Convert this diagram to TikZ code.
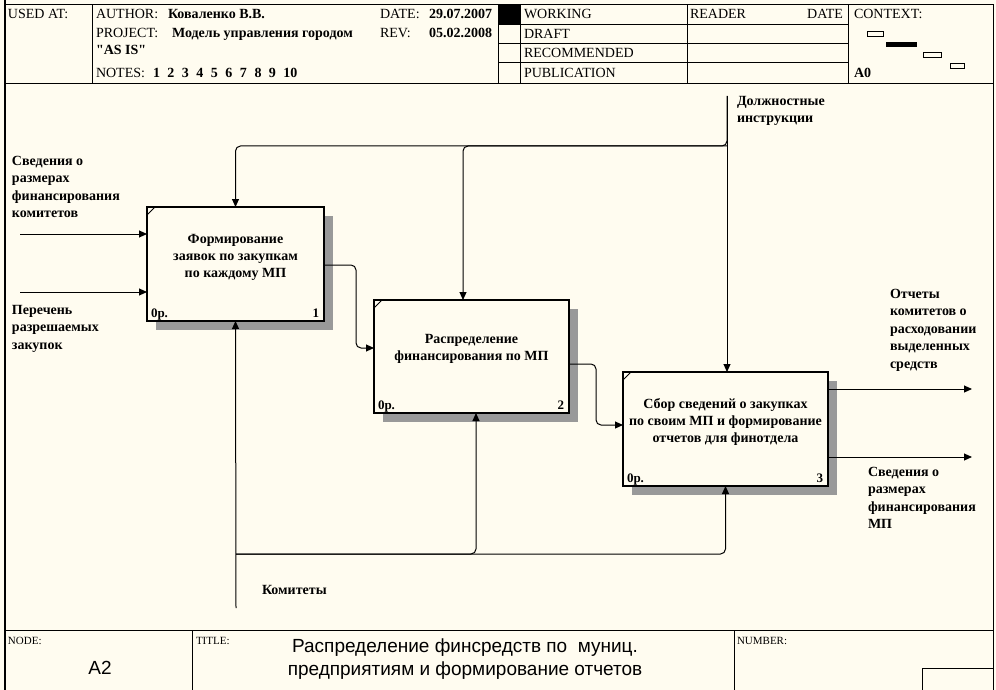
\documentclass[tikz,border=0pt]{standalone}
\usepackage{fontspec}
\setmainfont{Liberation Serif}
\newfontfamily\rawserif{Liberation Serif}
\newfontfamily\arialf{Liberation Sans}
\usetikzlibrary{arrows.meta,shadows}
\definecolor{bg}{RGB}{255,252,240}
\begin{document}
\begin{tikzpicture}[x=1pt,y=-1pt,
  every node/.style={inner sep=0pt, outer sep=0pt},
  hdr/.style={font=\fontsize{14}{15}\selectfont, anchor=base west},
  hdrb/.style={font=\bfseries\fontsize{14}{15}\selectfont, anchor=base west},
  small/.style={font=\fontsize{11}{13}\selectfont, anchor=base west},
  lbl/.style={font=\bfseries\fontsize{14}{17.5}\selectfont, align=left, anchor=north west},
  proc/.style={draw, line width=2.2pt, fill=bg,
    drop shadow={shadow xshift=9pt, shadow yshift=-9pt, fill=black!40, opacity=1}},
  boxtxt/.style={align=center, font=\bfseries\fontsize{14}{17}\selectfont},
  cost/.style={font=\bfseries\fontsize{13}{13}\selectfont, anchor=base west},
  num/.style={font=\bfseries\fontsize{13}{13}\selectfont, anchor=base east},
  arr/.style={line width=1pt, -{Triangle[length=8pt,width=7pt]}},
  ln/.style={line width=1pt},
  frame/.style={line width=1pt},
]
% background
\fill[bg] (0,0) rectangle (996,690);
\useasboundingbox (0,0) rectangle (996,690);

% ---------- header ----------
\draw[frame] (5,5) rectangle (993,84);
\draw[line width=2pt] (5,0) -- (5,690);
\draw[frame] (993,5) -- (993,690);
\draw[frame] (92,5) -- (92,84);
\draw[frame] (498,5) -- (498,84);
\draw[frame] (520,5) -- (520,84);
\draw[frame] (687,5) -- (687,84);
\draw[frame] (848,5) -- (848,84);
\draw[frame] (498,25) -- (848,25);
\draw[frame] (498,44) -- (848,44);
\draw[frame] (498,63) -- (848,63);
\fill[black] (498,5) rectangle (520,25);

\node[hdr] (usedat) at (8,19) {USED AT:};
\node[hdr] (author) at (96,19) {AUTHOR:};
\node[hdrb] (authv) at (168,19) {Коваленко В.В.};
\node[hdr] (date) at (380,19) {DATE:};
\node[hdrb] (datev) at (429,19) {29.07.2007};
\node[hdr] (proj) at (96,38) {PROJECT:};
\node[hdrb] (projv) at (172,38) {Модель управления городом};
\node[hdr] (rev) at (380,38) {REV:};
\node[hdrb] (revv) at (429,38) {05.02.2008};
\node[hdrb] (asis) at (96,55) {\rawserif\bfseries "AS IS"};
\node[hdr] (notes) at (96,78) {NOTES:};
\node[hdrb] (notesv) at (153,78) {1\hspace{7.5pt}2\hspace{7.5pt}3\hspace{7.5pt}4\hspace{7.5pt}5\hspace{7.5pt}6\hspace{7.5pt}7\hspace{7.5pt}8\hspace{7.5pt}9\hspace{7.5pt}10};

\node[hdr] (working) at (524,19) {WORKING};
\node[hdr] (draft) at (524,39) {DRAFT};
\node[hdr] (recom) at (524,58) {RECOMMENDED};
\node[hdr] (publ) at (524,78) {PUBLICATION};
\node[hdr] (reader) at (690,19) {READER};
\node[hdr, anchor=base east] (rdate) at (843,19) {DATE};
\node[hdr] (context) at (854,19) {CONTEXT:};
\node[hdrb] (a0) at (854,78) {A0};

% context thumbnails
\draw[line width=0.8pt] (867,31) rectangle (883,36);
\fill[black] (886,42) rectangle (917,47);
\draw[line width=0.8pt] (923,52) rectangle (941,57);
\draw[line width=0.8pt] (950,63) rectangle (964,68);

% ---------- footer ----------
\draw[frame] (5,630) -- (993,630);
\draw[frame] (192,630) -- (192,690);
\draw[frame] (734,630) -- (734,690);
\draw[frame] (922,690) -- (922,668) -- (993,668);
\node[small] (nodelbl) at (8,644) {NODE:};
\node[small] (titlelbl) at (196,644) {TITLE:};
\node[small] (numlbl) at (737,644) {NUMBER:};
\node[font=\arialf\fontsize{19}{23}\selectfont] (nodev) at (100,668) {A2};
\node[font=\arialf\fontsize{19}{23}\selectfont, align=center] (titlev) at (465,659)
  {Распределение финсредств по\ \ муниц.\\предприятиям и формирование отчетов};

% ---------- activity boxes ----------
\node[proc, minimum width=177pt, minimum height=114pt] (b1) at (235.5,264) {};
\node[proc, minimum width=195pt, minimum height=113pt] (b2) at (471.5,356.5) {};
\node[proc, minimum width=205pt, minimum height=114pt] (b3) at (725.5,429) {};

\node[boxtxt] (t1) at ([yshift=7pt]b1.center) {Формирование\\заявок по закупкам\\по каждому МП};
\node[boxtxt] (t2) at ([yshift=7.5pt]b2.center) {Распределение\\финансирования по МП};
\node[boxtxt] (t3) at ([yshift=7pt]b3.center) {Сбор сведений о закупках\\по своим МП и формирование\\отчетов для финотдела};

\foreach \b/\n in {b1/1,b2/2,b3/3}{
  \draw[line width=1pt] ([yshift=-8pt]\b.north west) -- ([xshift=8pt]\b.north west);
  \node[cost] at ([xshift=4pt,yshift=4pt]\b.south west) {0р.};
  \node[num] at ([xshift=-5pt,yshift=4pt]\b.south east) {\n};
}

% ---------- inputs ----------
\coordinate (in1) at (20,234);
\coordinate (in2) at (20,292);
\draw[arr] (in1) -- (in1 -| b1.west);
\draw[arr] (in2) -- (in2 -| b1.west);
\node[lbl] (lin1) at (12,156) {Сведения о\\размерах\\финансирования\\комитетов};
\node[lbl] (lin2) at (12,305) {Перечень\\разрешаемых\\закупок};

% ---------- controls ----------
\coordinate (ct) at (727,96);
\coordinate (cy) at (0,146);
\draw[arr] (ct) -- (ct |- b3.north);
\draw[arr, rounded corners=5pt] (ct) -- (ct |- cy) -- (b1.north |- cy) -- (b1.north);
\draw[arr, rounded corners=5pt] (ct |- cy) -- ([xshift=-8.5pt]b2.north |- cy) -- ([xshift=-8.5pt]b2.north);
\node[lbl] (lct) at (737,96) {Должностные\\инструкции};

% ---------- box-to-box ----------
\coordinate (o1) at (356,265);
\coordinate (o1b) at (356,348);
\draw[arr, rounded corners=5pt] (b1.east |- o1) -- (o1) -- (o1b) -- (b2.west |- o1b);
\coordinate (o2) at (596,364);
\coordinate (o2b) at (596,425);
\draw[arr, rounded corners=5pt] (b2.east |- o2) -- (o2) -- (o2b) -- (b3.west |- o2b);

% ---------- outputs ----------
\coordinate (out1) at (972,389);
\coordinate (out2) at (972,457);
\draw[arr] (b3.east |- out1) -- (out1);
\draw[arr] (b3.east |- out2) -- (out2);
\node[lbl] (lout1) at (890,289) {Отчеты\\комитетов о\\расходовании\\выделенных\\средств};
\node[lbl] (lout2) at (868,467) {Сведения о\\размерах\\финансирования\\МП};

% ---------- mechanisms ----------
\coordinate (mc) at (236,608);
\coordinate (my) at (0,554);
\draw[arr] (mc) -- (b1.south);
\draw[arr, rounded corners=5pt] (mc |- my) -- (b3.south |- my) -- (b3.south);
\draw[arr, rounded corners=5pt] (mc |- my) -- ([xshift=4.5pt]b2.south |- my) -- ([xshift=4.5pt]b2.south);
\node[lbl] (lmc) at (262,585) {Комитеты};
\end{tikzpicture}
\end{document}
